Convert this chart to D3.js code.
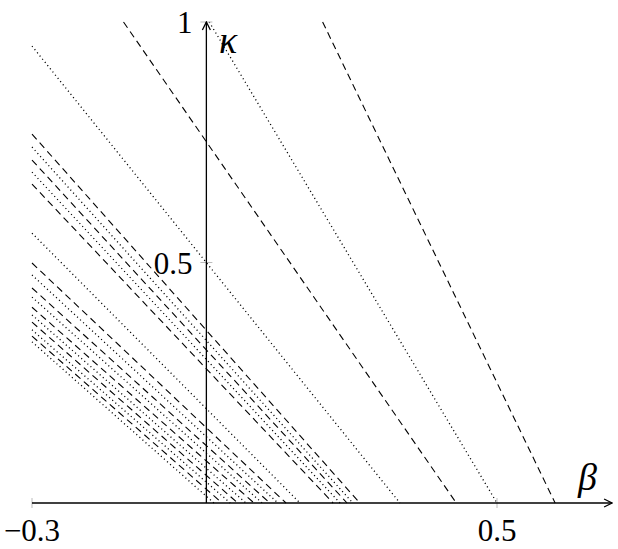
<!DOCTYPE html>
<html>
<head>
<meta charset="utf-8">
<script src="https://cdn.jsdelivr.net/npm/d3@7"></script>
<style>
  body { margin: 0; background: #fff; }
  text { font-family: "Liberation Serif", "DejaVu Serif", serif; fill: #000; }
</style>
</head>
<body>
<div class="chart"></div>
<script>
// kappa value where each line meets beta = -0.3 (extrapolated above 1 for the steep ones)
const lineLeftKappa = [
  1.275, 0.95, 1.616, 2.25,               // long lines
  0.561,                                  // lone dotted
  0.767, 0.740, 0.713, 0.688, 0.663,      // upper bundle
  0.499, 0.474, 0.447, 0.428, 0.407,      // lower bundle
  0.391, 0.376, 0.360, 0.347, 0.335
];
// beta where each line reaches kappa = 0
const lineRoot = [
  0.43, 0.333, 0.5, 0.6,
  0.161,
  0.264, 0.252, 0.242, 0.230, 0.218,
  0.137, 0.123, 0.109, 0.096, 0.082,
  0.068, 0.054, 0.041, 0.027, 0.013
];
const lineStyle = [
  "dashed", "dotted", "dotted", "dashed",
  "dotted",
  "dashed", "dotted", "dashed", "dotted", "dashed",
  "dashed", "dotted", "dashed", "dotted", "dashed",
  "dotted", "dashed", "dotted", "dashed", "dotted"
];
const xTicks = [-0.3, 0.5];
const xTickLabels = ["\u22120.3", "0.5"];
const yTicks = [0.5, 1];
const yTickLabels = ["0.5", "1"];

const width = 618, height = 549;
const svg = d3.select(".chart")
              .append("svg")
              .attr("width", width)
              .attr("height", height);

const xScale = d3.scaleLinear().domain([-0.3, 0.5]).range([32, 497]);
const yScale = d3.scaleLinear().domain([0, 1]).range([503, 22]);

// the family of lines
const lines = lineLeftKappa.map((kl, i) => {
    const r = lineRoot[i];
    const slope = kl / (r + 0.3);
    let b0 = -0.3, k0 = kl;
    if (kl > 1) { b0 = r - 1 / slope; k0 = 1; }
    return {p: [[b0, k0], [r, 0]], style: lineStyle[i]};
});

const lineGen = d3.line()
                  .x(d => xScale(d[0]))
                  .y(d => yScale(d[1]));

svg.append("g")
   .selectAll("path")
   .data(lines)
   .join("path")
   .attr("d", d => lineGen(d.p))
   .attr("fill", "none")
   .attr("stroke", "#000")
   .attr("stroke-width", d => d.style == "dashed" ? 1.1 : 1.3)
   .attr("stroke-dasharray", d => d.style == "dashed" ? "7,4.5" : "1.1,3");

// ticks (light grey, as in the source)
svg.append("g")
   .selectAll("line")
   .data(xTicks)
   .join("line")
   .attr("x1", d => xScale(d)).attr("x2", d => xScale(d))
   .attr("y1", yScale(0) - 5).attr("y2", yScale(0) + 5)
   .attr("stroke", "#bbb").attr("stroke-width", 1);
svg.append("g")
   .selectAll("line")
   .data(yTicks)
   .join("line")
   .attr("x1", xScale(0) - 6).attr("x2", xScale(0) + 6)
   .attr("y1", d => yScale(d)).attr("y2", d => yScale(d))
   .attr("stroke", "#bbb").attr("stroke-width", 1);

// axes with arrow heads
svg.append("defs").append("marker")
   .attr("id", "arrow")
   .attr("viewBox", "0 0 10 10")
   .attr("refX", 9).attr("refY", 5)
   .attr("markerWidth", 10).attr("markerHeight", 10)
   .attr("markerUnits", "userSpaceOnUse")
   .attr("orient", "auto")
   .append("path")
   .attr("d", "M1,1 L9,5 L1,9")
   .attr("fill", "none")
   .attr("stroke", "#000")
   .attr("stroke-width", 1.3);

svg.append("line")
   .attr("x1", xScale(-0.3)).attr("x2", xScale(0.698))
   .attr("y1", yScale(0)).attr("y2", yScale(0))
   .attr("stroke", "#000").attr("stroke-width", 1.3)
   .attr("marker-end", "url(#arrow)");
svg.append("line")
   .attr("x1", xScale(0)).attr("x2", xScale(0))
   .attr("y1", yScale(0)).attr("y2", yScale(1))
   .attr("stroke", "#000").attr("stroke-width", 1.3)
   .attr("marker-end", "url(#arrow)");

// tick labels
svg.append("g")
   .selectAll("text")
   .data(xTicks)
   .join("text")
   .attr("x", d => xScale(d))
   .attr("y", 541)
   .attr("text-anchor", "middle")
   .attr("font-size", 31)
   .text((d, i) => xTickLabels[i]);
svg.append("g")
   .selectAll("text")
   .data(yTicks)
   .join("text")
   .attr("x", xScale(0) - 14)
   .attr("y", d => yScale(d) + 11)
   .attr("text-anchor", "end")
   .attr("font-size", 31)
   .text((d, i) => yTickLabels[i]);

// axis names
svg.append("text")
   .attr("x", 219).attr("y", 53)
   .attr("font-size", 38).attr("font-style", "italic")
   .text("\u03ba");
svg.append("text")
   .attr("x", 578).attr("y", 490)
   .attr("font-size", 38).attr("font-style", "italic")
   .text("\u03b2");
</script>
</body>
</html>
